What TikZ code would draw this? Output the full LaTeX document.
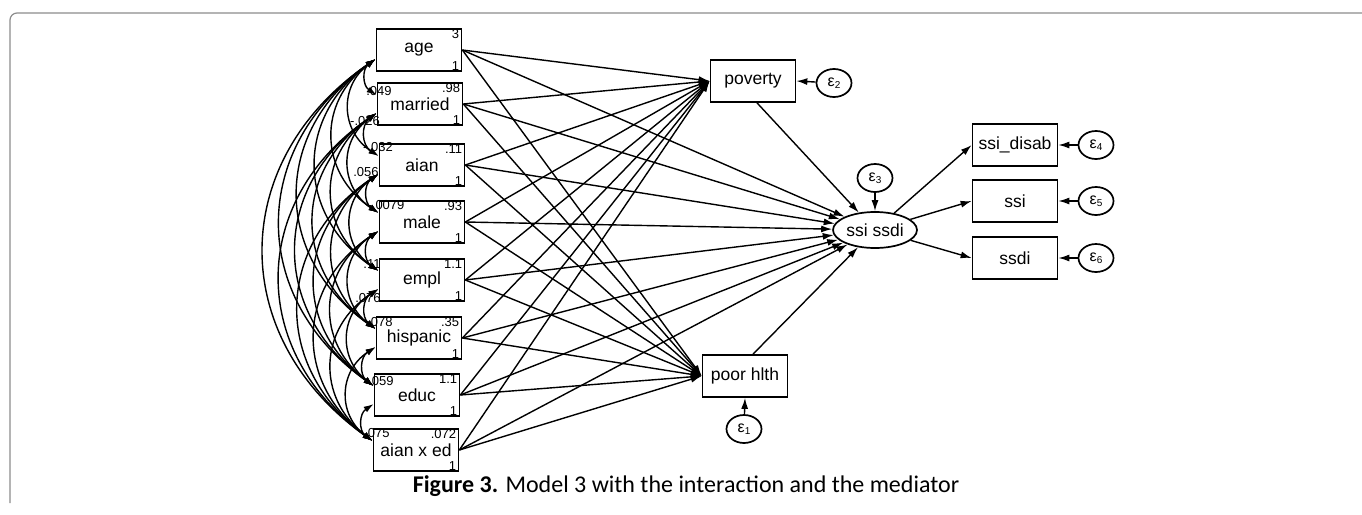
\documentclass[tikz,border=0pt]{standalone}
\usepackage{fontspec}
\setmainfont{Liberation Sans}
\newfontfamily\capfont{Carlito}
\usetikzlibrary{arrows.meta,shapes.geometric}
\newcommand\myeps[1]{ε\raisebox{-2.5pt}{\fontsize{10}{10}\selectfont #1}}
\begin{document}
\begin{tikzpicture}[x=1pt,y=-1pt,
  obs/.style={draw, line width=1.7pt, fill=white, minimum width=85pt, minimum height=42pt, inner sep=0pt, font=\fontsize{17.5}{18}\selectfont},
  lat/.style={draw, ellipse, line width=1.7pt, fill=white, minimum width=84pt, minimum height=36pt, inner sep=0pt, font=\fontsize{17.5}{18}\selectfont},
  err/.style={draw, ellipse, line width=1.7pt, fill=white, minimum width=35pt, minimum height=28pt, inner sep=0pt, font=\fontsize{16}{16}\selectfont},
  pth/.style={line width=1.4pt, -{Latex[length=11pt,width=7pt]}},
  cov/.style={line width=1.4pt, {Latex[length=10pt,width=6.5pt]}-{Latex[length=10pt,width=6.5pt]}},
  num/.style={font=\fontsize{13}{13}\selectfont, inner sep=1pt},
  frame/.style={draw=black!45, line width=1.2pt, rounded corners=7pt}
]
\useasboundingbox (0,0) rectangle (1362,514);
\draw[frame] (10,503) -- (10,13) -- (1362,13);

% exogenous boxes
\foreach \i/\lab/\px/\py/\tp in {1/age/419/50/3, 2/married/420/104/.98, 3/aian/422/165/.11, 4/male/422/222/.93, 5/empl/422/280/1.1, 6/hispanic/419/338/.35, 7/educ/417/395/1.1, 8/aian x ed/416/450/.072}{
  \node[obs] (v\i) at (\px,\py) {\raisebox{-3pt}{\lab}};
  \node[num, anchor=north east] (m\i) at ([xshift=-2pt,yshift=0pt]v\i.north east) {\tp};
  \node[num, anchor=south east] (w\i) at ([xshift=-2pt,yshift=0pt]v\i.south east) {1};
}

% covariance labels (on the boxes, under the curves)
\node[num] (c1) at (379,91) {.049};
\node[num] (c2) at (365,121) {-.026};
\node[num] (c3) at (378,147) {-.032};
\node[num] (c4) at (366,172) {.056};
\node[num] (c5) at (386,205) {-.0079};
\node[num] (c6) at (372,264) {.11};
\node[num] (c7) at (368,298) {.076};
\node[num] (c8) at (380,322) {.078};
\node[num] (c9) at (381,381) {.059};
\node[num] (c10) at (377,433) {.075};

% endogenous
\node[obs] (pov) at (753,81) {poverty};
\node[obs] (ph) at (745,376) {poor hlth};
\node[lat] (ssi) at (875,230) {ssi ssdi};
\node[obs] (b1) at (1015,145) {ssi\_disab};
\node[obs] (b2) at (1015,201) {ssi};
\node[obs] (b3) at (1015,258) {ssdi};

\node[err] (e2) at (834,83) {\myeps{2}};
\node[err] (e1) at (744,429) {\myeps{1}};
\node[err] (e3) at (875,178) {\myeps{3}};
\node[err] (e4) at (1096,145) {\myeps{4}};
\node[err] (e5) at (1096,201) {\myeps{5}};
\node[err] (e6) at (1096,258) {\myeps{6}};

% covariance curves
\foreach \i in {1,...,7}{
  \pgfmathtruncatemacro\s{\i+1}
  \foreach \j in {\s,...,8}{
    \draw[cov] ([yshift=-9pt]v\i.west) to[bend right=55, looseness=1.2] ([yshift=9pt]v\j.west);
  }
}

% structural paths
\foreach \i in {1,...,8}{
  \draw[pth] (v\i.east) -- (pov.west);
  \draw[pth] (v\i.east) -- (ph.west);
  \draw[pth] (v\i.east) -- (ssi);
}
\draw[pth] ([xshift=4pt]pov.south) -- (ssi);
\draw[pth] ([xshift=8pt]ph.north) -- (ssi);
\draw[pth] (ssi) -- (b1.west);
\draw[pth] (ssi) -- (b2.west);
\draw[pth] (ssi) -- (b3.west);

\draw[pth] (e2) -- (pov.east);
\draw[pth] (e1) -- (ph.south);
\draw[pth] (e3) -- (ssi);
\draw[pth] (e4) -- (b1.east);
\draw[pth] (e5) -- (b2.east);
\draw[pth] (e6) -- (b3.east);

\node[font=\capfont\fontsize{24}{26}\selectfont] (cap) at (686,486) {\textbf{Figure 3.} Model 3 with the interaction and the mediator};
\end{tikzpicture}
\end{document}
